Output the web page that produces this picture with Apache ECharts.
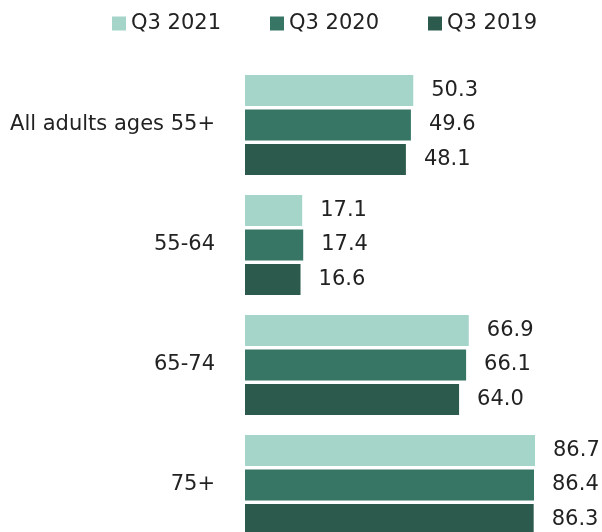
<!DOCTYPE html>
<html>
<head>
<meta charset="utf-8">
<script src="https://cdn.jsdelivr.net/npm/echarts@6/dist/echarts.min.js"></script>
<style>
html,body{margin:0;padding:0;background:#fff;}
#chart{width:602px;height:532px;}
</style>
</head>
<body>
<div id="chart"></div>
<script>
var categories = ['All adults ages 55+', '55-64', '65-74', '75+'];
var seriesNames = ['Q3 2021', 'Q3 2020', 'Q3 2019'];
var q3_2021 = [50.3, 17.1, 66.9, 86.7];
var q3_2020 = [49.6, 17.4, 66.1, 86.4];
var q3_2019 = [48.1, 16.6, 64.0, 86.3];
var colors = ['#a5d4c9', '#377665', '#2c5a4c'];

var FONT = 'DejaVu Sans';
var dataSets = [q3_2021, q3_2020, q3_2019];

var chart = echarts.init(document.getElementById('chart'), null, {renderer: 'canvas'});
chart.setOption({
  animation: false,
  color: colors,
  textStyle: {fontFamily: FONT},
  legend: {
    top: 8,
    left: 107,
    itemWidth: 14,
    itemHeight: 14,
    itemGap: 49,
    icon: 'rect',
    textStyle: {fontFamily: FONT, fontSize: 21, color: '#222'},
    data: seriesNames
  },
  grid: {left: 245, top: 65, width: 334.5, height: 480, outerBoundsMode: 'none', containLabel: false},
  xAxis: {
    type: 'value', min: 0, max: 100,
    show: false
  },
  yAxis: {
    type: 'category',
    inverse: true,
    data: categories,
    axisLine: {show: false},
    axisTick: {show: false},
    axisLabel: {fontFamily: FONT, fontSize: 21, color: '#222', margin: 30}
  },
  series: seriesNames.map(function (name, i) {
    return {
      name: name,
      type: 'bar',
      data: dataSets[i],
      barWidth: 31,
      barGap: '11%',
      itemStyle: {color: colors[i]},
      label: {
        show: true,
        position: 'right',
        distance: 18,
        fontFamily: FONT,
        fontSize: 21,
        color: '#222',
        formatter: function (p) { return p.value.toFixed(1); }
      }
    };
  })
});
</script>
</body>
</html>
